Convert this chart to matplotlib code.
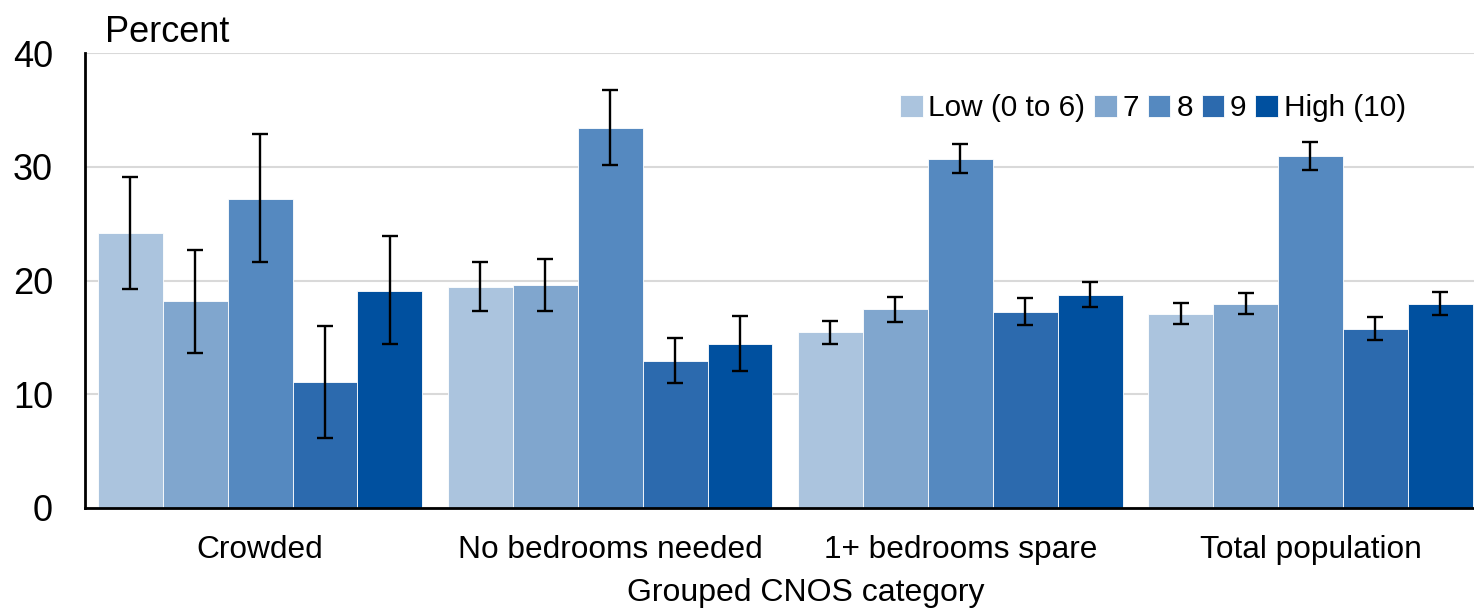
import matplotlib.pyplot as plt
import numpy as np

plt.rcParams['font.family'] = ['Liberation Sans', 'DejaVu Sans']

categories = ['Crowded', 'No bedrooms needed', '1+ bedrooms spare', 'Total population']
series = ['Low (0 to 6)', '7', '8', '9', 'High (10)']
colors = ['#ABC4DE', '#80A6CE', '#5589C0', '#2C6AAE', '#00509F']

# values per series, one entry per category
values = [
    [24.2, 19.45, 15.5, 17.05],
    [18.2, 19.6, 17.5, 17.95],
    [27.2, 33.45, 30.7, 30.95],
    [11.05, 12.9, 17.25, 15.75],
    [19.1, 14.45, 18.75, 17.95],
]
err_low = [
    [19.25, 17.3, 14.45, 16.15],
    [13.65, 17.3, 16.35, 17.05],
    [21.65, 30.2, 29.45, 29.75],
    [6.15, 11.0, 16.05, 14.75],
    [14.4, 12.05, 17.65, 16.95],
]
err_high = [
    [29.1, 21.65, 16.45, 18.0],
    [22.65, 21.85, 18.55, 18.9],
    [32.9, 36.8, 32.05, 32.2],
    [16.0, 14.95, 18.45, 16.8],
    [23.9, 16.9, 19.85, 19.0],
]

fig = plt.figure(figsize=(14.74, 6.09), dpi=100)
ax = fig.add_axes([85 / 1474, 1 - 507.7 / 609, 1400.5 / 1474, 454.4 / 609])

x = np.arange(len(categories))
width = 0.1854
for i, name in enumerate(series):
    pos = x + (i - 2) * width
    v = np.array(values[i])
    lo = v - np.array(err_low[i])
    hi = np.array(err_high[i]) - v
    ax.bar(pos, v, width, color=colors[i], label=name, zorder=2,
           edgecolor='white', linewidth=0.6)
    ax.errorbar(pos, v, yerr=[lo, hi], fmt='none', ecolor='black',
                elinewidth=1.7, capsize=6, capthick=1.7, zorder=3)

ax.set_xlim(-0.5, 3.5)
ax.set_ylim(0, 40)
ax.set_yticks([0, 10, 20, 30, 40])
ax.set_xticks(x)
ax.set_xticklabels(categories, fontsize=22.8)
ax.tick_params(axis='y', labelsize=26, length=0, pad=23)
ax.tick_params(axis='x', length=0, pad=20)
ax.grid(axis='y', color='#D9D9D9', linewidth=1.5, zorder=0)
ax.set_axisbelow(True)
for s in ['top', 'right']:
    ax.spines[s].set_visible(False)
ax.spines['left'].set_linewidth(2)
ax.spines['bottom'].set_linewidth(2)

fig.text(105 / 1474, 1 - 42 / 609, 'Percent', fontsize=26, ha='left', va='baseline')
fig.text(806 / 1474, 1 - 593 / 609, 'Grouped CNOS category', fontsize=23,
         ha='center', va='center')

ax.legend(loc='center', bbox_to_anchor=((1153 - 85) / 1400.5, (507.7 - 108) / 454.4),
          ncol=5, frameon=False, fontsize=21.4, handlelength=0.75, handleheight=0.75,
          handletextpad=0.2, columnspacing=0.3, borderaxespad=0)

fig.savefig('out.png', dpi=100)
